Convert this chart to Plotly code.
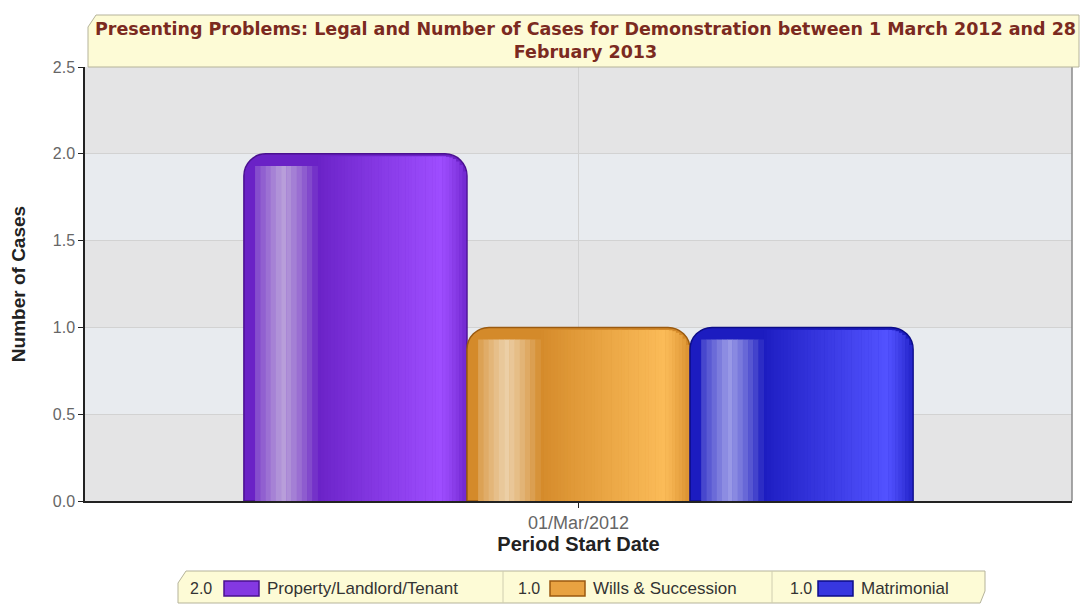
import math
import plotly.graph_objects as go

# ---- data ----
periods = ["01/Mar/2012"]
problems = ["Property/Landlord/Tenant", "Wills & Succession", "Matrimonial"]
cases = [2.0, 1.0, 1.0]
y_ticks = [0.0, 0.5, 1.0, 1.5, 2.0, 2.5]

base_colors = ["#6a22c6", "#d48a2a", "#1c1cc0"]
bright_colors = ["#9e4dff", "#fbbb58", "#5252ff"]
edge_colors = ["#4a1090", "#9a5a10", "#0c0c88"]
hl_colors = ["#b9a0da", "#ecd0a8", "#9a9ae6"]

W, H = 1083, 606
L, R, T, B = 85, 11, 67, 105
pw, ph = W - L - R, H - T - B
Y_MAX = 2.5


def px_x(p):
    return (p - L) / pw


def px_y(p):
    return (H - B - p) / ph


def mix(c1, c2, t):
    a = [int(c1[i:i + 2], 16) for i in (1, 3, 5)]
    b = [int(c2[i:i + 2], 16) for i in (1, 3, 5)]
    return "#" + "".join(f"{round(x + (y - x) * t):02x}" for x, y in zip(a, b))


fig = go.Figure()

bar_w = 0.226
corner_px = 22
bar_px = bar_w * pw
unit_px = ph / Y_MAX


def corner_drop(f):
    """vertical drop (data units) of the rounded top at fractional position f."""
    d = min(f, 1 - f) * bar_px
    if d >= corner_px:
        return 0.0
    dx = corner_px - d
    return (corner_px - math.sqrt(max(corner_px ** 2 - dx ** 2, 0))) / unit_px


n = len(problems)
start = -bar_w * n / 2
for i, (name, v) in enumerate(zip(problems, cases)):
    off = start + i * bar_w
    fig.add_trace(go.Bar(
        x=periods, y=[v], name=name, width=bar_w, offset=off,
        marker=dict(color=base_colors[i], line=dict(color=edge_colors[i], width=1.5),
                    cornerradius=corner_px),
        showlegend=False, hovertemplate=f"{name}: %{{y:.1f}}<extra></extra>"))
    # brightening gradient toward the right, then darkening at the very edge
    ns = 44
    f0, f1 = 0.33, 0.995
    for k in range(ns):
        fa = f0 + (f1 - f0) * k / ns
        fb = f0 + (f1 - f0) * (k + 1) / ns
        fc = (fa + fb) / 2
        if fc < 0.88:
            t = ((fc - f0) / (0.88 - f0)) ** 0.9
        else:
            t = 1 - ((fc - 0.88) / (1 - 0.88)) ** 1.3 * 0.9
        c = mix(base_colors[i], bright_colors[i], t)
        top = v - max(corner_drop(fa), corner_drop(fb)) - 2.5 / unit_px
        fig.add_trace(go.Bar(
            x=periods, y=[top], width=(fb - fa) * bar_w + 0.0004,
            offset=off + fa * bar_w,
            marker=dict(color=c, line=dict(width=0)),
            showlegend=False, hoverinfo="skip"))
    # left soft highlight strip
    nh = 12
    h0, h1 = 0.05, 0.33
    for k in range(nh):
        t = (k + 0.5) / nh
        strength = 1 - abs(t - 0.45) / 0.55
        c = mix(base_colors[i], hl_colors[i], max(0.0, strength) ** 0.8)
        fig.add_trace(go.Bar(
            x=periods, y=[v - 0.07], width=bar_w * (h1 - h0) / nh + 0.0004,
            offset=off + bar_w * (h0 + (h1 - h0) * k / nh),
            marker=dict(color=c, line=dict(width=0)),
            showlegend=False, hoverinfo="skip"))

shapes = []
for k in range(len(y_ticks) - 1):
    shapes.append(dict(
        type="rect", xref="paper", yref="y", x0=0, x1=1,
        y0=y_ticks[k], y1=y_ticks[k + 1], layer="below", line=dict(width=0),
        fillcolor="#e4e4e5" if k % 2 == 0 else "#e8ebef"))
shapes.append(dict(type="line", xref="paper", yref="paper", x0=1, x1=1, y0=0, y1=1,
                   line=dict(color="#8a8a8a", width=1.5)))

tx0, tx1, ty0, ty1 = px_x(88), px_x(1079), px_y(67), px_y(15)
sl = 8 / pw
shapes.append(dict(
    type="path", xref="paper", yref="paper",
    path=f"M {tx0},{ty0} L {tx0},{px_y(27)} L {tx0 + sl},{ty1} L {tx1},{ty1} L {tx1},{ty0} Z",
    fillcolor="#fdfbd6", line=dict(color="#b5b39a", width=1)))

lx0, lx1, ly0, ly1 = px_x(178), px_x(985), px_y(603), px_y(571)
shapes.append(dict(
    type="path", xref="paper", yref="paper",
    path=(f"M {lx0},{ly0} L {lx0},{px_y(583)} L {lx0 + sl},{ly1} L {lx1},{ly1} "
          f"L {lx1},{px_y(591)} L {lx1 - sl * 0.6},{ly0} Z"),
    fillcolor="#fdfbd6", line=dict(color="#b5b39a", width=1)))

title_lines = ["Presenting Problems: Legal and Number of Cases for Demonstration between 1 March 2012 and 28",
               "February 2013"]
annotations = [dict(
    text="<br>".join(f"<b>{s}</b>" for s in title_lines),
    xref="paper", yref="paper", x=px_x(585), y=px_y(40), showarrow=False,
    font=dict(family="DejaVu Sans", size=17.5, color="#7b2a1f"),
    xanchor="center", yanchor="middle")]

leg_val_x = [188, 516, 788]
sw_x = [224, 550, 818]
name_x = [265, 591, 859]
seps = [503, 772]
cy = px_y(588)
lfont = dict(family="Liberation Sans, Arial", size=17, color="#333")
vfont = dict(family="Liberation Sans, Arial", size=16, color="#333")
for i, (name, v) in enumerate(zip(problems, cases)):
    annotations.append(dict(text=f"{v:.1f}", xref="paper", yref="paper",
                            x=px_x(leg_val_x[i]), y=cy, xanchor="left", yanchor="middle",
                            showarrow=False, font=vfont))
    annotations.append(dict(text=name, xref="paper", yref="paper",
                            x=px_x(name_x[i]), y=cy, xanchor="left", yanchor="middle",
                            showarrow=False, font=lfont))
    shapes.append(dict(type="rect", xref="paper", yref="paper",
                       x0=px_x(sw_x[i]), x1=px_x(sw_x[i] + 35),
                       y0=px_y(596), y1=px_y(581),
                       fillcolor=mix(base_colors[i], bright_colors[i], 0.5),
                       line=dict(color=edge_colors[i], width=1.5)))
for s in seps:
    shapes.append(dict(type="line", xref="paper", yref="paper",
                       x0=px_x(s), x1=px_x(s), y0=ly0, y1=ly1,
                       line=dict(color="#d0ceb0", width=1)))

fig.update_layout(
    width=W, height=H,
    margin=dict(l=L, r=R, t=T, b=B, pad=0),
    paper_bgcolor="white", plot_bgcolor="#e6e8ea",
    barmode="overlay",
    showlegend=False,
    shapes=shapes, annotations=annotations,
    font=dict(family="Liberation Sans, Arial", color="#555"),
    xaxis=dict(
        type="category", range=[-0.5, 0.5],
        showgrid=True, gridcolor="#d2d2d2", gridwidth=1,
        showline=True, linecolor="#222", linewidth=1.5,
        ticks="outside", ticklen=5, tickcolor="#222",
        tickfont=dict(size=18, color="#666"),
        title=dict(text="<b>Period Start Date</b>", font=dict(size=20, color="#222"), standoff=5),
    ),
    yaxis=dict(
        range=[0, Y_MAX], tickvals=y_ticks, tickformat=".1f",
        showgrid=True, gridcolor="#d2d2d2", gridwidth=1,
        showline=True, linecolor="#222", linewidth=1.5,
        ticks="outside", ticklen=5, tickcolor="#222",
        tickfont=dict(size=16, color="#666"), zeroline=False,
        title=dict(text="<b>Number of Cases</b>", font=dict(size=19, color="#222"), standoff=22),
    ),
)

fig.write_html("out.html", config={"displayModeBar": False},
               post_script="document.body.style.margin='0px';")
